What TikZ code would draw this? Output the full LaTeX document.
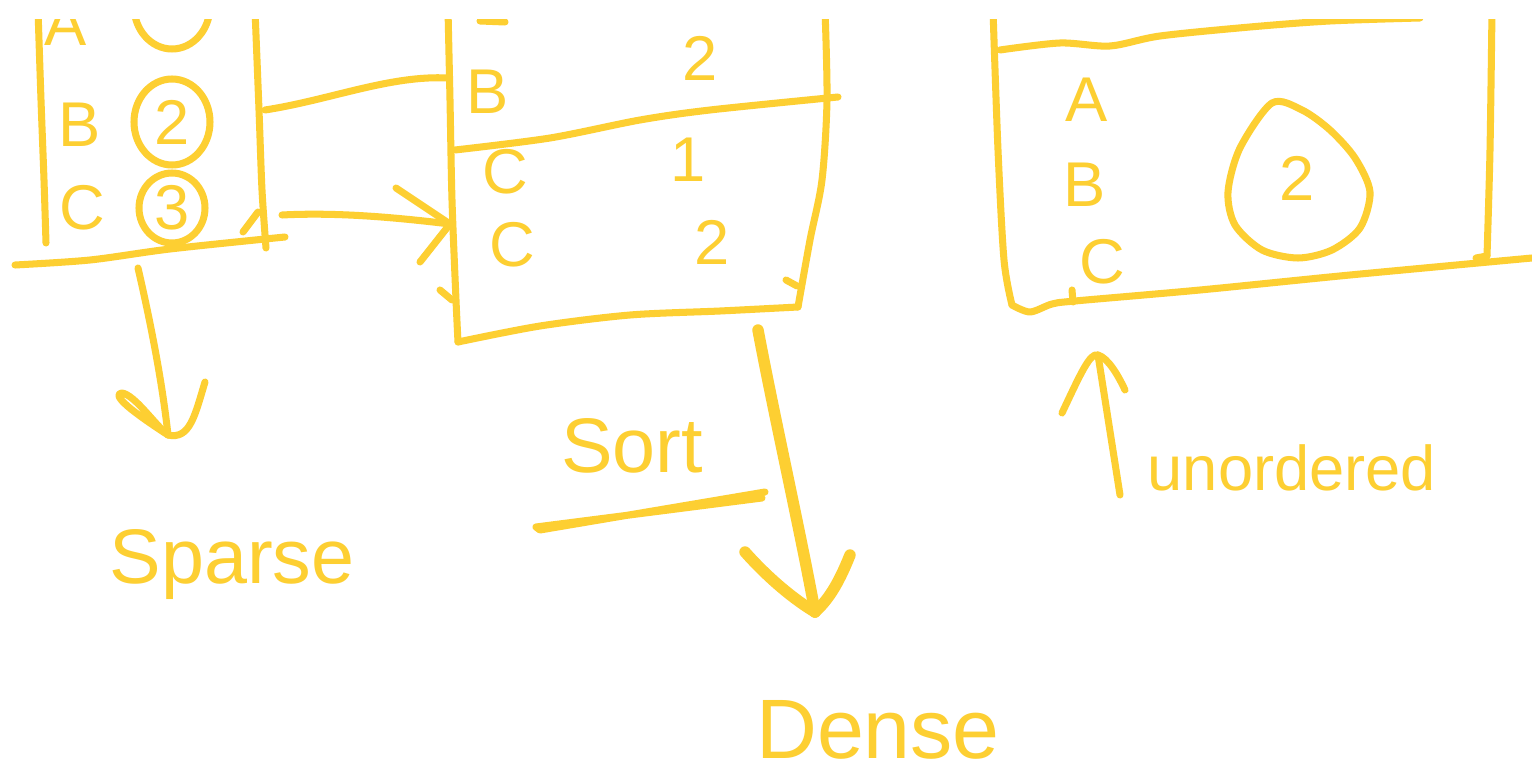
\documentclass[tikz,border=0pt]{standalone}
\usepackage{fontspec}
\setmainfont{Liberation Sans}
\definecolor{marker}{RGB}{253,207,50}
\tikzset{
  ink/.style={draw=marker, line width=4pt, line cap=round, line join=round},
  heavy/.style={draw=marker, line width=6.5pt, line cap=round, line join=round},
  lbl/.style={text=marker, font=\fontsize{36}{36}\selectfont, inner sep=0pt},
  word/.style={text=marker, font=\fontsize{44}{44}\selectfont, inner sep=0pt},
}
\begin{document}
\begin{tikzpicture}[x=0.02cm,y=-0.02cm]
\useasboundingbox[fill=white] (0,0) rectangle (1532,776);
\begin{scope}
\clip (0,20) rectangle (1532,776);

% ---------- left table (sparse) ----------
\draw[ink] plot[smooth] coordinates {(38,10) (41,100) (44,180) (46,243)};
\draw[ink] plot[smooth] coordinates {(255,10) (259,110) (262,190) (266,248)};
\draw[ink] plot[smooth] coordinates {(15,265) (90,260) (170,249) (285,237)};
\draw[ink] (243,232) -- (258,212);
\node[lbl] (la) at (66,24) {A};
\draw[ink] (172,6) ellipse (38 and 43);
\node[lbl] (lb) at (80,125) {B};
\node[lbl] (l2) at (172,122) {2};
\draw[ink] (l2.center) ellipse (38 and 43);
\node[lbl] (lc) at (82,208) {C};
\node[lbl] (l3) at (172,208) {3};
\draw[ink] (l3.center) ellipse (33 and 35);
\coordinate (lrowb) at (265,110);
\coordinate (lrowc) at (282,215);
\coordinate (lbot) at (138,268);

% ---------- middle table ----------
\draw[ink] plot[smooth] coordinates {(448,10) (450,100) (452,200) (456,300) (458,342)};
\draw[ink] plot[smooth] coordinates {(458,342) (540,326) (630,315) (720,311) (798,307)};
\draw[ink] plot[smooth] coordinates {(825,10) (827,100) (822,180) (810,240) (798,307)};
\draw[ink] plot[smooth] coordinates {(455,150) (550,138) (640,120) (710,110) (838,97)};
\draw[ink] (440,290) -- (452,300);
\draw[ink] (786,280) -- (797,286);
\draw[ink] (480,21) -- (505,22);
\node[lbl] (mb) at (488,92) {B};
\node[lbl] (m2a) at (700,58) {2};
\node[lbl] (mc1) at (505,172) {C};
\node[lbl] (m1) at (688,160) {1};
\node[lbl] (mc2) at (512,245) {C};
\node[lbl] (m2b) at (712,242) {2};
\coordinate (mrowb) at (448,78);
\coordinate (mrowc) at (450,224);
\coordinate (mbot) at (758,330);

% ---------- right table (unordered) ----------
\draw[ink] plot[smooth] coordinates {(993,10) (998,150) (1004,260) (1012,305)};
\draw[ink] plot[smooth] coordinates {(1000,50) (1060,43) (1110,46) (1160,36) (1250,27) (1330,21) (1420,18)};
\draw[ink] plot[smooth] coordinates {(1492,10) (1490,150) (1487,256)};
\draw[ink] (1487,256) -- (1476,258);
\draw[ink] plot[smooth] coordinates {(1012,305) (1030,312) (1052,304) (1075,301) (1200,290) (1350,275) (1532,258)};
\draw[ink] (1072,290) -- (1073,302);
\node[lbl] (ra) at (1087,100) {A};
\node[lbl] (rb) at (1085,185) {B};
\node[lbl] (rc) at (1102,262) {C};
\node[lbl] (r2) at (1297,178) {2};
% tear-drop ring round the count
\draw[ink] plot[smooth cycle] coordinates {(1272,103) (1302,110) (1330,130) (1355,158) (1370,192) (1360,228) (1332,250) (1298,258) (1262,250) (1235,225) (1228,192) (1240,148)};
\coordinate (rbot) at (1098,355);

% ---------- connectors between the tables ----------
\draw[ink] (lrowb) .. controls (330,100) and (390,75) .. (mrowb);
\draw[ink] (lrowc) .. controls (340,212) and (400,218) .. (mrowc);
\draw[ink] (mrowc) -- (396,188);
\draw[ink] (mrowc) -- (420,262);

% ---------- sparse arrow ----------
\coordinate (stip) at (168,435);
\draw[ink] (lbot) .. controls (150,320) and (162,380) .. (stip);
\draw[ink] (stip) .. controls (145,420) and (108,395) .. (122,393) .. controls (135,395) and (155,425) .. (stip);
\draw[ink] (stip) .. controls (190,440) and (195,415) .. (205,382);
\node[word] (sparse) at (232,565) {Sparse};

% ---------- sort / dense arrow ----------
\coordinate (dtip) at (815,612);
\draw[heavy] (mbot) .. controls (775,420) and (800,530) .. (dtip);
\draw[heavy] (745,552) .. controls (770,580) and (795,600) .. (dtip);
\draw[heavy] (850,555) .. controls (838,585) and (828,600) .. (dtip);
\node[word] (sort) at (632,446) {Sort};
\draw[ink] (765,492) -- (540,530) -- (536,527) -- (762,498);
\node[word, font=\fontsize{48}{48}\selectfont] (dense) at (878,730) {Dense};

% ---------- unordered arrow ----------
\coordinate (utail) at (1120,495);
\draw[ink] (utail) -- (rbot);
\draw[ink] (1062,413) .. controls (1080,375) and (1090,352) .. (rbot) .. controls (1108,358) and (1118,375) .. (1125,390);
\node[lbl] (unord) at (1292,468) {unordered};
\end{scope}
\end{tikzpicture}
\end{document}
